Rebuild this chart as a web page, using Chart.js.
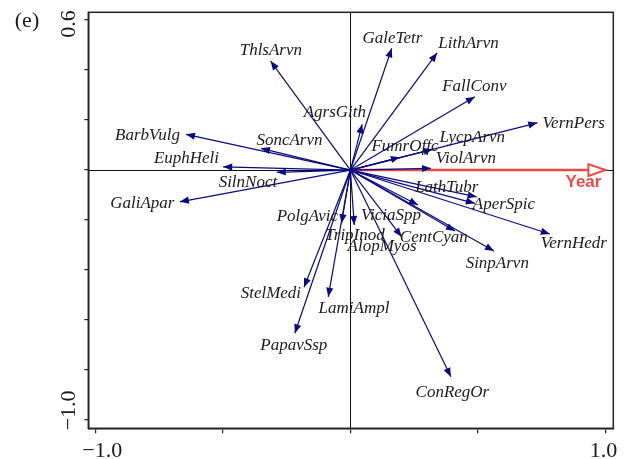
<!DOCTYPE html>
<html>
<head>
<meta charset="utf-8">
<script src="https://cdn.jsdelivr.net/npm/chart.js@4/dist/chart.umd.min.js"></script>
<style>
html, body { margin: 0; padding: 0; background: #fff; }
#wrap { width: 627px; height: 459px; }
</style>
</head>
<body>
<div id="wrap"><canvas id="c" width="627" height="459"></canvas></div>
<script>
// species scores (arrow tips) on the two ordination axes
const species = ['ThlsArvn', 'GaleTetr', 'LithArvn', 'FallConv', 'VernPers', 'AgrsGith', 'LycpArvn',
  'FumrOffc', 'ViolArvn', 'BarbVulg', 'SoncArvn', 'EuphHeli', 'SilnNoct', 'GaliApar', 'PolgAvic',
  'TripInod', 'ViciaSpp', 'AlopMyos', 'CentCyan', 'LathTubr', 'AperSpic', 'SinpArvn', 'VernHedr',
  'StelMedi', 'LamiAmpl', 'PapavSsp', 'ConRegOr'];
const axis1 = [-0.313, 0.162, 0.340, 0.488, 0.733, 0.046, 0.322,
  0.194, 0.316, -0.645, -0.351, -0.499, -0.289, -0.669, -0.035,
  0.015, 0.265, 0.201, 0.410, 0.495, 0.488, 0.563, 0.782,
  -0.182, -0.087, -0.218, 0.394];
const axis2 = [0.436, 0.487, 0.469, 0.293, 0.189, 0.183, 0.083,
  0.051, 0.007, 0.143, 0.087, 0.013, -0.009, -0.127, -0.213,
  -0.220, -0.140, -0.267, -0.244, -0.107, -0.133, -0.324, -0.256,
  -0.469, -0.507, -0.653, -0.827];
// where each name sits, in axis units
const labelX = [-0.312, 0.165, 0.463, 0.486, 0.876, -0.061, 0.478,
  0.214, 0.453, -0.796, -0.239, -0.643, -0.402, -0.816, -0.169,
  0.018, 0.159, 0.124, 0.327, 0.378, 0.602, 0.576, 0.876,
  -0.312, 0.014, -0.222, 0.400];
const labelY = [0.480, 0.526, 0.506, 0.334, 0.186, 0.232, 0.130,
  0.096, 0.046, 0.140, 0.120, 0.046, -0.050, -0.134, -0.186,
  -0.260, -0.182, -0.306, -0.270, -0.070, -0.136, -0.374, -0.294,
  -0.494, -0.554, -0.700, -0.890];

// environmental variable
const envName = 'Year';
const envX = 1.0;
const envY = 0.0;
const envLabelX = 0.914;
const envLabelY = -0.048;

const xTicks = [-1.0, -0.5, 0, 0.5, 1.0];
const xTickLabels = ['\u22121.0', '', '', '', '1.0'];
const yTicks = [0.6, 0.4, 0.2, 0, -0.2, -0.4, -0.6, -0.8, -1.0];
const yTickLabels = ['0.6', '', '', '', '', '', '', '', '\u22121.0'];

const panelTag = '(e)';

const navy = '#0a0a82';
const red = '#e84a4a';

const datasets = species.map((s, i) => ({
  label: s,
  data: [{x: 0, y: 0}, {x: axis1[i], y: axis2[i]}],
  showLine: true,
  borderColor: navy,
  borderWidth: 1.2,
  pointRadius: 0
}));
datasets.push({
  label: envName,
  data: [{x: 0, y: 0}, {x: envX, y: envY}],
  showLine: true,
  borderColor: red,
  borderWidth: 2.6,
  pointRadius: 0
});

function headPath(ctx, x0, y0, x1, y1, len, half) {
  const a = Math.atan2(y1 - y0, x1 - x0);
  const bx = x1 - len * Math.cos(a), by = y1 - len * Math.sin(a);
  ctx.beginPath();
  ctx.moveTo(x1, y1);
  ctx.lineTo(bx + half * Math.sin(a), by - half * Math.cos(a));
  ctx.lineTo(bx - half * Math.sin(a), by + half * Math.cos(a));
  ctx.closePath();
}

const biplot = {
  id: 'biplot',
  beforeDatasetsDraw(chart) {
    const {ctx, chartArea: a, scales: {x, y}} = chart;
    ctx.save();
    ctx.strokeStyle = '#111';
    ctx.lineWidth = 1;
    const x0 = Math.round(x.getPixelForValue(0)) + 0.5;
    const y0 = Math.round(y.getPixelForValue(0)) + 0.5;
    ctx.beginPath();
    ctx.moveTo(a.left, y0); ctx.lineTo(a.right, y0);
    ctx.moveTo(x0, a.top); ctx.lineTo(x0, a.bottom);
    ctx.stroke();
    ctx.restore();
  },
  afterDatasetsDraw(chart) {
    const {ctx, chartArea: a, scales: {x, y}} = chart;
    const ox = x.getPixelForValue(0), oy = y.getPixelForValue(0);
    ctx.save();
    // Year arrow head, open
    const ex = x.getPixelForValue(envX), ey = y.getPixelForValue(envY);
    headPath(ctx, ox, oy, ex, ey, 17, 6);
    ctx.fillStyle = '#fff';
    ctx.fill();
    ctx.strokeStyle = red;
    ctx.lineWidth = 2;
    ctx.stroke();
    // species heads
    ctx.fillStyle = navy;
    species.forEach((s, i) => {
      headPath(ctx, ox, oy, x.getPixelForValue(axis1[i]), y.getPixelForValue(axis2[i]), 9, 3.6);
      ctx.fill();
    });
    // names
    ctx.fillStyle = '#1a1a1a';
    ctx.font = 'italic 17px "Liberation Serif", "Times New Roman", serif';
    ctx.textAlign = 'center';
    ctx.textBaseline = 'middle';
    species.forEach((s, i) => {
      ctx.fillText(s, x.getPixelForValue(labelX[i]), y.getPixelForValue(labelY[i]));
    });
    ctx.fillStyle = red;
    ctx.font = 'bold 17px "Liberation Sans", Arial, sans-serif';
    ctx.fillText(envName, x.getPixelForValue(envLabelX), y.getPixelForValue(envLabelY));
    ctx.restore();
  },
  afterDraw(chart) {
    const {ctx, chartArea: a, scales: {x, y}} = chart;
    ctx.save();
    ctx.strokeStyle = '#222';
    ctx.lineWidth = 1.5;
    ctx.strokeRect(a.left, a.top, a.right - a.left, a.bottom - a.top);
    ctx.fillStyle = '#1a1a1a';
    ctx.font = '22px "Liberation Serif", "Times New Roman", serif';
    // x tick labels, kept inside the frame width
    ctx.textBaseline = 'alphabetic';
    ctx.textAlign = 'left';
    xTicks.forEach((v, i) => {
      const t = xTickLabels[i];
      if (!t) return;
      const w = ctx.measureText(t).width;
      let left = x.getPixelForValue(v) - w / 2;
      left = Math.max(a.left - 6, Math.min(a.right + 4 - w, left));
      ctx.fillText(t, left, a.bottom + 29);
    });
    // y tick labels, rotated, kept inside the frame height
    yTicks.forEach((v, i) => {
      const t = yTickLabels[i];
      if (!t) return;
      const w = ctx.measureText(t).width;
      let c = y.getPixelForValue(v);
      c = Math.max(a.top - 2 + w / 2, Math.min(a.bottom + 2 - w / 2, c));
      ctx.save();
      ctx.translate(a.left - 13, c);
      ctx.rotate(-Math.PI / 2);
      ctx.textAlign = 'center';
      ctx.fillText(t, 0, 0);
      ctx.restore();
    });
    ctx.textAlign = 'center';
    ctx.textBaseline = 'middle';
    ctx.fillText(panelTag, 27, 21);
    ctx.restore();
  }
};

new Chart(document.getElementById('c'), {
  type: 'scatter',
  data: {datasets: datasets},
  options: {
    responsive: false,
    animation: false,
    layout: {padding: {left: 0, right: 13.7, top: 12.3, bottom: 0}},
    plugins: {legend: {display: false}, tooltip: {enabled: false}},
    scales: {
      x: {
        min: -1.028, max: 1.031,
        afterBuildTicks: axis => { axis.ticks = xTicks.map(v => ({value: v})); },
        afterFit: axis => { axis.height = 30.7; axis.paddingLeft = 0; axis.paddingRight = 0; },
        ticks: {callback: () => '', autoSkip: false},
        grid: {drawOnChartArea: false, drawTicks: true, tickLength: 5, color: '#222', lineWidth: 1.2},
        border: {display: true, color: '#222', width: 1.5}
      },
      y: {
        min: -1.033, max: 0.631,
        afterBuildTicks: axis => { axis.ticks = yTicks.map(v => ({value: v})); },
        afterFit: axis => { axis.width = 88.3; axis.paddingTop = 0; axis.paddingBottom = 0; },
        ticks: {callback: () => '', autoSkip: false},
        grid: {drawOnChartArea: false, drawTicks: true, tickLength: 4, color: '#222', lineWidth: 1.2},
        border: {display: true, color: '#222', width: 1.5}
      }
    }
  },
  plugins: [biplot]
});
</script>
</body>
</html>
